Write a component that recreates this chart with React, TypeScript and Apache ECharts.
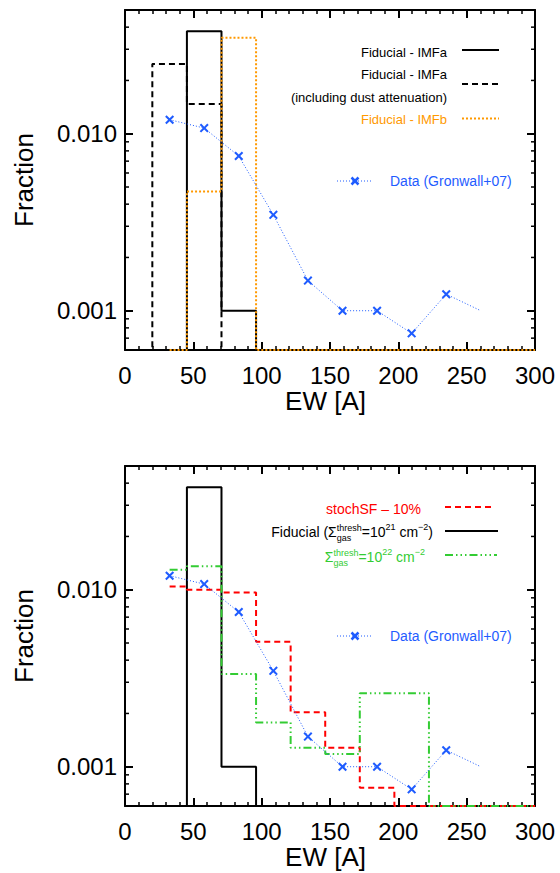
import React, { useEffect, useRef } from 'react';
import * as echarts from 'echarts';

// ---------- data ----------
const X_MIN = 0;
const X_MAX = 300;
const X_INTERVAL = 50;
const Y_MIN = 0.0006;
const Y_MAX = 0.05;

// histogram bin edges (EW, Angstrom); bin i spans BIN_EDGES[i]..BIN_EDGES[i+1]
const BIN_EDGES = [-5.3, 20, 45.3, 70.6, 95.9, 121.2, 146.5, 171.8, 197.1, 222.4, 247.7, 273, 298.3, 323.6];
// fraction per bin: null = bin not plotted, 0 = empty bin
const fiducialIMFa = [null, 0, 0.0379, 0.001, 0, 0, 0, 0, 0, 0, 0, 0, 0];
const fiducialIMFaDust = [0, 0.0248, 0.0147, 0, 0, 0, 0, 0, 0, 0, 0, 0, 0];
const fiducialIMFb = [null, 0, 0.00472, 0.0348, 0, 0, 0, 0, 0, 0, 0, 0, 0];
const stochSF10 = [null, 0.01044, 0.01, 0.00966, 0.00508, 0.00203, 0.00128, 0.00076, 0, 0, 0, 0, 0];
const thresh22 = [null, 0.01298, 0.01355, 0.00334, 0.00178, 0.00128, 0.00118, 0.0026, 0.0026, 0, 0, 0, 0];

// Gronwall+07 data
const dataEW = [32.65, 57.95, 83.25, 108.55, 133.85, 159.15, 184.45, 209.75, 235.05, 260.35];
const dataFrac = [0.012, 0.01076, 0.00748, 0.00348, 0.00148, 0.001, 0.001, 0.000745, 0.00124, 0.001];
const dataMarker = [true, true, true, true, true, true, true, true, true, false];

// y tick labels
const yTickValues = [0.001, 0.01];
const yTickLabels = ['0.001', '0.010'];
const yMinorTicks = [0.0007, 0.0008, 0.0009, 0.002, 0.003, 0.004, 0.005, 0.006, 0.007, 0.008, 0.009, 0.02, 0.03, 0.04];

// ---------- styles ----------
const FONT = '"Liberation Sans", Arial, Helvetica, sans-serif';
const BLUE = '#1f5cff';
const ORANGE = '#ff9900';
const RED = '#ff0000';
const GREEN = '#33cc33';
const GRID_TOPS = [10, 466];
const GRID_LEFT = 125;
const GRID_W = 410;
const GRID_H = 340;

let measureCtx: CanvasRenderingContext2D | null = null;
function measure(text: string, size: number): number {
  if (!measureCtx) {
    const c = document.createElement('canvas');
    measureCtx = c.getContext('2d');
  }
  if (!measureCtx) return text.length * size * 0.55;
  measureCtx.font = `${size}px "Liberation Sans", Arial, sans-serif`;
  return measureCtx.measureText(text).width;
}

function stepPoints(vals: (number | null)[]): number[][] {
  const pts: number[][] = [];
  const f = vals.findIndex((v) => v !== null);
  const yv = (v: number | null) => (v && v > 0 ? v : Y_MIN);
  pts.push([(BIN_EDGES[f] + BIN_EDGES[f + 1]) / 2, yv(vals[f])]);
  for (let i = f; i < vals.length; i++) {
    const right = BIN_EDGES[i + 1];
    pts.push([right, yv(vals[i])]);
    if (i + 1 < vals.length) pts.push([right, yv(vals[i + 1])]);
  }
  return pts.map(([x, v]) => [Math.min(x, X_MAX), v]);
}

type Seg = { t?: string; kind: 'n' | 'sup' | 'stack'; sup?: string; sub?: string };

function richLine(segs: Seg[], rightX: number, y: number, size: number, color: string): any[] {
  const small = 9;
  const widths = segs.map((s) =>
    s.kind === 'n' ? measure(s.t || '', size) : s.kind === 'sup' ? measure(s.t || '', small) : Math.max(measure(s.sup || '', small), measure(s.sub || '', small))
  );
  const total = widths.reduce((a, b) => a + b, 0);
  let x = rightX - total;
  const els: any[] = [];
  segs.forEach((s, i) => {
    const base = { fontFamily: FONT, fill: color, align: 'left', verticalAlign: 'middle' };
    if (s.kind === 'n') {
      els.push({ type: 'text', x, y, silent: true, style: { ...base, text: s.t, fontSize: size } });
    } else if (s.kind === 'sup') {
      els.push({ type: 'text', x, y: y - 5, silent: true, style: { ...base, text: s.t, fontSize: small } });
    } else {
      els.push({ type: 'text', x, y: y - 4, silent: true, style: { ...base, text: s.sup, fontSize: small } });
      els.push({ type: 'text', x, y: y + 6, silent: true, style: { ...base, text: s.sub, fontSize: small } });
    }
    x += widths[i];
  });
  return els;
}

function textEl(text: string, x: number, y: number, size: number, color: string, align: string) {
  return { type: 'text', x, y, silent: true, style: { text, fontFamily: FONT, fontSize: size, fill: color, align, verticalAlign: 'middle' } };
}

function lineEl(x1: number, x2: number, y: number, color: string, dash: any, width = 2) {
  return { type: 'line', silent: true, shape: { x1, y1: y, x2, y2: y }, style: { stroke: color, lineWidth: width, lineDash: dash } };
}

function dataSample(y: number): any[] {
  const cx = 355;
  const r = 3.5;
  return [
    lineEl(337, 373, y, BLUE, [1, 2], 1),
    { type: 'line', silent: true, shape: { x1: cx - r, y1: y - r, x2: cx + r, y2: y + r }, style: { stroke: BLUE, lineWidth: 2.5 } },
    { type: 'line', silent: true, shape: { x1: cx - r, y1: y + r, x2: cx + r, y2: y - r }, style: { stroke: BLUE, lineWidth: 2.5 } },
    textEl('Data (Gronwall+07)', 390, y, 14, BLUE, 'left'),
  ];
}

const CROSS = 'path://M0,1.6L1.6,0L5,3.4L8.4,0L10,1.6L6.6,5L10,8.4L8.4,10L5,6.6L1.6,10L0,8.4L3.4,5Z';

function yLabel(v: number): string {
  for (let i = 0; i < yTickValues.length; i++) {
    if (Math.abs(Math.log10(v) - Math.log10(yTickValues[i])) < 1e-6) return yTickLabels[i];
  }
  return '';
}

function buildOption(): any {
  const grids = GRID_TOPS.map((top) => ({ left: GRID_LEFT, top, width: GRID_W, height: GRID_H, containLabel: false }));
  const xAxes: any[] = [];
  const yAxes: any[] = [];
  GRID_TOPS.forEach((_, g) => {
    const common = {
      type: 'value',
      gridIndex: g,
      min: X_MIN,
      max: X_MAX,
      interval: X_INTERVAL,
      axisLine: { show: true, onZero: false, lineStyle: { color: '#000', width: 2 } },
      axisTick: { show: true, inside: true, length: 8, lineStyle: { color: '#000', width: 2 } },
      minorTick: { show: true, splitNumber: 5, length: 4, lineStyle: { color: '#000', width: 1.5 } },
      splitLine: { show: false },
    };
    xAxes.push({
      ...common,
      position: 'bottom',
      axisLabel: { show: true, fontSize: 24, color: '#000', fontFamily: FONT, margin: 13 },
      name: 'EW [A]',
      nameLocation: 'middle',
      nameGap: 38,
      nameTextStyle: { fontSize: 26, color: '#000', fontFamily: FONT, padding: [0, 9, 0, 0] },
    });
    xAxes.push({ ...common, position: 'top', axisLabel: { show: false } });
    const ycommon = {
      type: 'log',
      logBase: 10,
      gridIndex: g,
      min: Y_MIN,
      max: Y_MAX,
      axisLine: { show: true, onZero: false, lineStyle: { color: '#000', width: 2 } },
      axisTick: { show: true, inside: true, length: 8, lineStyle: { color: '#000', width: 2 } },
      minorTick: { show: false },
      splitLine: { show: false },
    };
    yAxes.push({
      ...ycommon,
      position: 'left',
      axisLabel: { show: true, fontSize: 24, color: '#000', fontFamily: FONT, margin: 8, formatter: (v: number) => yLabel(v), showMinLabel: true, showMaxLabel: true },
      name: 'Fraction',
      nameLocation: 'middle',
      nameGap: 88,
      nameTextStyle: { fontSize: 26, color: '#000', fontFamily: FONT },
    });
    yAxes.push({ ...ycommon, position: 'right', axisLabel: { show: false } });
  });

  const hist = (g: number, vals: (number | null)[], color: string, dash: any, z: number) => ({
    type: 'line',
    xAxisIndex: 2 * g,
    yAxisIndex: 2 * g,
    data: stepPoints(vals),
    symbol: 'none',
    showSymbol: false,
    clip: false,
    silent: true,
    z,
    lineStyle: { color, width: 2, type: dash, cap: 'butt' },
  });

  const dataSeries = (g: number) => ({
    type: 'line',
    xAxisIndex: 2 * g,
    yAxisIndex: 2 * g,
    data: dataEW.map((x, i) => ({ value: [x, dataFrac[i]], symbol: dataMarker[i] ? CROSS : 'none' })),
    symbol: CROSS,
    symbolSize: 9,
    showSymbol: true,
    silent: true,
    z: 10,
    itemStyle: { color: BLUE },
    lineStyle: { color: BLUE, width: 1, type: [1, 2] },
  });

  const minorTicks = (g: number) => ({
    type: 'custom',
    xAxisIndex: 2 * g,
    yAxisIndex: 2 * g,
    silent: true,
    clip: false,
    z: 1,
    data: yMinorTicks.map((v) => [X_MIN, v]),
    encode: { x: 0, y: 1 },
    renderItem: (params: any, api: any) => {
      const v = api.value(1);
      const pl = api.coord([X_MIN, v]);
      const pr = api.coord([X_MAX, v]);
      return {
        type: 'group',
        children: [
          { type: 'line', shape: { x1: pl[0], y1: pl[1], x2: pl[0] + 4, y2: pl[1] }, style: { stroke: '#000', lineWidth: 1.5 } },
          { type: 'line', shape: { x1: pr[0] - 4, y1: pr[1], x2: pr[0], y2: pr[1] }, style: { stroke: '#000', lineWidth: 1.5 } },
        ],
      };
    },
  });

  const DASH = [6, 4];
  const DOT = [2, 2];
  const DASHDOT3 = [8, 3, 1.5, 3, 1.5, 3, 1.5, 3];

  const series: any[] = [
    minorTicks(0),
    minorTicks(1),
    hist(0, fiducialIMFa, '#000', 'solid', 3),
    hist(0, fiducialIMFaDust, '#000', DASH, 4),
    hist(0, fiducialIMFb, ORANGE, DOT, 5),
    dataSeries(0),
    hist(1, fiducialIMFa, '#000', 'solid', 3),
    hist(1, stochSF10, RED, DASH, 4),
    hist(1, thresh22, GREEN, DASHDOT3, 5),
    dataSeries(1),
  ];

  const graphics: any[] = [
    // top legend
    textEl('Fiducial - IMFa', 447, 52, 13, '#000', 'right'),
    lineEl(462, 499, 50, '#000', null),
    textEl('Fiducial - IMFa', 447, 74, 13, '#000', 'right'),
    textEl('(including dust attenuation)', 447, 97, 13, '#000', 'right'),
    lineEl(462, 499, 84, '#000', DASH),
    textEl('Fiducial - IMFb', 447, 119, 13, ORANGE, 'right'),
    lineEl(462, 499, 118.5, ORANGE, DOT),
    ...dataSample(181),
    // bottom legend
    textEl('stochSF – 10%', 421, 509, 14, RED, 'right'),
    lineEl(445, 495, 507, RED, DASH),
    ...richLine(
      [
        { kind: 'n', t: 'Fiducial (Σ' },
        { kind: 'stack', sup: 'thresh', sub: 'gas' },
        { kind: 'n', t: '=10' },
        { kind: 'sup', t: '21' },
        { kind: 'n', t: ' cm' },
        { kind: 'sup', t: '−2' },
        { kind: 'n', t: ')' },
      ],
      433,
      532,
      14,
      '#000'
    ),
    lineEl(445, 498, 531, '#000', null),
    ...richLine(
      [
        { kind: 'n', t: 'Σ' },
        { kind: 'stack', sup: 'thresh', sub: 'gas' },
        { kind: 'n', t: '=10' },
        { kind: 'sup', t: '22' },
        { kind: 'n', t: ' cm' },
        { kind: 'sup', t: '−2' },
      ],
      425,
      557,
      14,
      GREEN
    ),
    lineEl(445, 497, 555, GREEN, DASHDOT3),
    ...dataSample(636),
  ];

  return {
    animation: false,
    backgroundColor: '#fff',
    grid: grids,
    xAxis: xAxes,
    yAxis: yAxes,
    series,
    graphic: { elements: graphics },
  };
}

export default function App() {
  const ref = useRef<HTMLDivElement>(null);
  useEffect(() => {
    if (!ref.current) return;
    const chart = echarts.init(ref.current, null, { renderer: 'svg' });
    chart.setOption(buildOption());
    return () => chart.dispose();
  }, []);
  return <div ref={ref} style={{ position: 'absolute', left: 0, top: 0, width: 560, height: 873, background: '#fff' }} />;
}
